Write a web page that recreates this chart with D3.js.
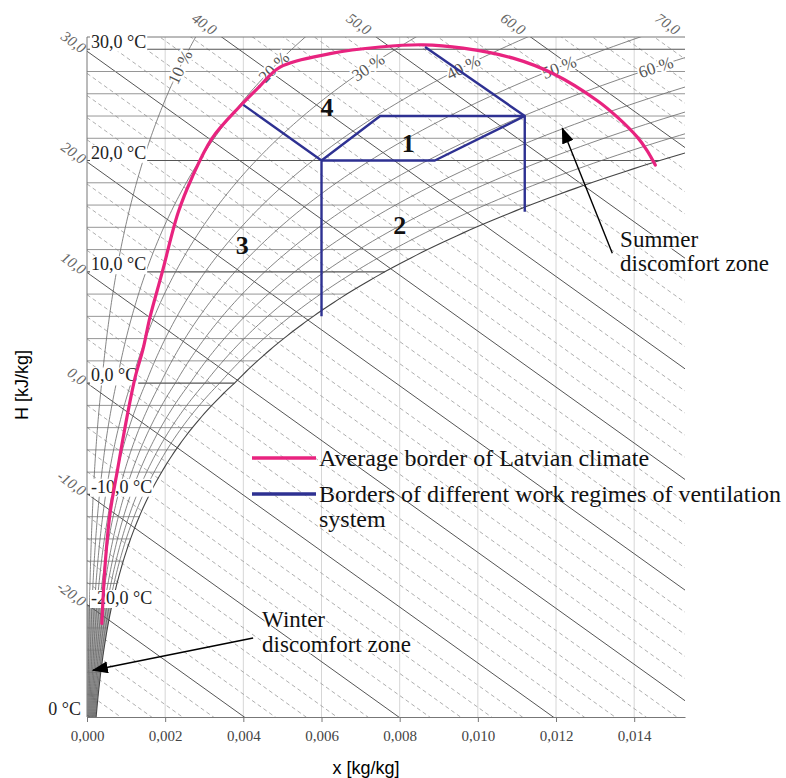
<!DOCTYPE html>
<html>
<head>
<meta charset="utf-8">
<script src="https://cdn.jsdelivr.net/npm/d3@7"></script>
<style>
  body { margin: 0; background: #fff; }
  .serif { font-family: "Liberation Serif", "Times New Roman", serif; }
  .sans { font-family: "Liberation Sans", Arial, sans-serif; }
</style>
</head>
<body>
<script>
// ---- data ----
var xTicks = [0, 0.002, 0.004, 0.006, 0.008, 0.010, 0.012, 0.014];
var xTickLabels = ["0,000", "0,002", "0,004", "0,006", "0,008", "0,010", "0,012", "0,014"];

var isoLabelTemps = [30, 20, 10, 0, -10, -20];
var isoLabels = ["30,0 °C", "20,0 °C", "10,0 °C", "0,0 °C", "-10,0 °C", "-20,0 °C"];
var bottomLabel = "0 °C";

var hLeftLevels = [30, 20, 10, 0, -10, -20];
var hLeftLabels = ["30,0", "20,0", "10,0", "0,0", "-10,0", "-20,0"];
var hTopLevels = [40, 50, 60, 70];
var hTopLabels = ["40,0", "50,0", "60,0", "70,0"];

var rhLevels = [0.1, 0.2, 0.3, 0.4, 0.5, 0.6, 0.7, 0.8, 0.9, 1.0];
var rhLabelLevels = [0.1, 0.2, 0.3, 0.4, 0.5, 0.6];
var rhLabels = ["10 %", "20 %", "30 %", "40 %", "50 %", "60 %"];

// average border of Latvian climate (x kg/kg, t °C)
var climateX = [0.00038, 0.00046, 0.00059, 0.00079, 0.00102, 0.00123, 0.00143, 0.00161, 0.00192,
                0.00233, 0.00269, 0.00320, 0.00392, 0.00440, 0.00494, 0.00622, 0.00750, 0.00860,
                0.00962, 0.01090, 0.01193, 0.01305, 0.01357, 0.01408, 0.01433, 0.01454];
var climateT = [-21.6, -16.5, -11.7, -7.6, -3.1, 0.5, 3.0, 5.9, 9.9,
                15.3, 18.5, 22.0, 24.9, 26.6, 28.4, 29.6, 30.2, 30.4,
                30.1, 29.2, 27.8, 25.4, 23.9, 22.1, 20.9, 19.6];

// borders of the work regimes, [x, t]
var regimeA = [[0.0040, 25.0], [0.0060, 20.0], [0.0060, 6.0]];
var regimeB = [[0.0060, 20.0], [0.0075, 24.0], [0.0112, 24.0], [0.0112, 15.4]];
var regimeC = [[0.0060, 20.0], [0.0089, 20.0], [0.0112, 24.0]];
var regimeD = [[0.0112, 24.0], [0.00865, 30.2]];

var zoneNames = ["1", "2", "3", "4"];
var zoneX = [0.00822, 0.0080, 0.00397, 0.00614];
var zoneT = [21.6, 14.2, 12.4, 24.8];

// ---- scales ----
var xMax = 0.0153, tMin = -30, tTop = 31.1;
var x = d3.scaleLinear().domain([0, xMax]).range([87, 685]);
var y = d3.scaleLinear().domain([tMin, tTop]).range([717, 37]);

function ps(t) {
  return t >= 0 ? 0.6112 * Math.exp(17.62 * t / (243.12 + t))
                : 0.6112 * Math.exp(22.46 * t / (272.62 + t));
}
function xRH(phi, t) { var p = phi * ps(t); return 0.622 * p / (101.325 - p); }
function tOfH(h, xx) { return (h - 2530 * xx) / 1.006; }

var svg = d3.select("body").append("svg")
    .attr("width", 786)
    .attr("height", 778);

svg.append("rect").attr("width", 786).attr("height", 778).attr("fill", "#fff");

svg.append("clipPath").attr("id", "plot")
  .append("rect")
    .attr("x", x(0)).attr("y", y(tTop))
    .attr("width", x(xMax) - x(0)).attr("height", y(tMin) - y(tTop));

var grid = svg.append("g").attr("clip-path", "url(#plot)");
var line = d3.line().x(function(d) { return x(d[0]); }).y(function(d) { return y(d[1]); });

// dense dark corner below -20 °C
var cornerT = d3.range(tMin, -19.9, 0.5);
grid.append("path")
    .datum(cornerT.map(function(t) { return [xRH(1, t), t]; })
      .concat([[0, -20], [0, tMin]]))
    .attr("fill", "#aaa")
    .attr("d", line);

// vertical grid
grid.selectAll(".vgrid")
  .data(xTicks.slice(1))
  .enter().append("line")
    .attr("x1", function(d) { return x(d); }).attr("x2", function(d) { return x(d); })
    .attr("y1", y(tTop)).attr("y2", y(tMin))
    .style("stroke", "#ccc").style("stroke-width", 0.8);

// enthalpy lines
var hMinor = d3.range(-30, 72, 2);
grid.selectAll(".hline")
  .data(hMinor)
  .enter().append("path")
    .attr("fill", "none")
    .attr("d", function(h) { return line([[0, tOfH(h, 0)], [xMax, tOfH(h, xMax)]]); })
    .style("stroke", function(h) { return h % 10 === 0 ? "#555" : "#999"; })
    .style("stroke-width", function(h) { return h % 10 === 0 ? 1 : 0.8; })
    .style("stroke-dasharray", function(h) { return h % 10 === 0 ? null : "4,3"; });

// isotherms
var isoTemps = d3.range(-28, 32, 2);
grid.selectAll(".iso")
  .data(isoTemps)
  .enter().append("path")
    .attr("fill", "none")
    .attr("d", function(t) { return line([[0, t], [Math.min(xRH(1, t), xMax), t]]); })
    .style("stroke", function(t) { return t % 10 === 0 ? "#555" : "#8a8a8a"; })
    .style("stroke-width", function(t) { return t % 10 === 0 ? 1.1 : 0.9; });

// relative humidity curves
var tSteps = d3.range(tMin, tTop + 0.26, 0.25);
grid.selectAll(".rh")
  .data(rhLevels)
  .enter().append("path")
    .attr("fill", "none")
    .attr("d", function(phi) {
      var pts = tSteps.map(function(t) { return [xRH(phi, t), t]; })
        .filter(function(d) { return d[0] < xMax * 1.1; });
      return line(pts);
    })
    .style("stroke", function(phi) { return phi === 1 ? "#444" : "#666"; })
    .style("stroke-width", function(phi) { return phi === 1 ? 1.1 : 0.8; });

// frame
svg.append("line").attr("x1", x(0)).attr("x2", x(0)).attr("y1", y(tTop)).attr("y2", y(tMin))
  .style("stroke", "#777").style("stroke-width", 1);
svg.append("line").attr("x1", x(0)).attr("x2", x(xMax)).attr("y1", y(tTop)).attr("y2", y(tTop))
  .style("stroke", "#777").style("stroke-width", 1);

// isotherm labels with white background
isoLabelTemps.forEach(function(t, i) {
  var g = svg.append("g");
  var txt = g.append("text")
      .attr("class", "serif")
      .attr("x", x(0) + 4)
      .attr("y", y(t) - 8)
      .attr("dy", "0.35em")
      .style("font-size", "18px")
      .style("fill", "#222")
      .text(isoLabels[i]);
  var b = txt.node().getBBox();
  g.insert("rect", "text")
      .attr("x", b.x - 1).attr("y", b.y + 2)
      .attr("width", b.width + 2).attr("height", b.height - 2)
      .attr("fill", "#fff");
});
svg.append("text")
    .attr("class", "serif")
    .attr("x", x(0) - 6)
    .attr("y", y(tMin) - 8)
    .attr("dy", "0.35em")
    .attr("text-anchor", "end")
    .style("font-size", "18px")
    .style("fill", "#222")
    .text(bottomLabel);

// enthalpy labels
var ang = Math.atan2(y(tOfH(0, 0.001)) - y(tOfH(0, 0)), x(0.001) - x(0)) * 180 / Math.PI;
hLeftLevels.forEach(function(h, i) {
  var px = x(0) - 3, py = y(tOfH(h, 0)) - 1;
  svg.append("text")
      .attr("class", "serif")
      .attr("transform", "translate(" + px + "," + py + ") rotate(" + ang + ")")
      .attr("text-anchor", "end")
      .attr("dy", "0.3em")
      .style("font-size", "15px")
      .style("font-style", "italic")
      .style("fill", "#666")
      .text(hLeftLabels[i]);
});
hTopLevels.forEach(function(h, i) {
  var xc = (h - 1.006 * tTop) / 2530;
  var px = x(xc) - 7, py = y(tTop) - 5;
  svg.append("text")
      .attr("class", "serif")
      .attr("transform", "translate(" + px + "," + py + ") rotate(" + ang + ")")
      .attr("text-anchor", "end")
      .attr("dy", "0.3em")
      .style("font-size", "15px")
      .style("font-style", "italic")
      .style("fill", "#666")
      .text(hTopLabels[i]);
});

// RH labels
rhLabelLevels.forEach(function(phi, i) {
  var t0 = 28.4;
  var ax = x(xRH(phi, t0 - 0.5)), ay = y(t0 - 0.5);
  var bx = x(xRH(phi, t0 + 0.5)), by = y(t0 + 0.5);
  var a = Math.atan2(by - ay, bx - ax) * 180 / Math.PI;
  if (a < -90) a += 180;
  svg.append("text")
      .attr("class", "serif")
      .attr("transform", "translate(" + x(xRH(phi, t0)) + "," + y(t0) + ") rotate(" + a + ")")
      .attr("text-anchor", "middle")
      .attr("dy", "0.35em")
      .style("font-size", "17px")
      .style("fill", "#555")
      .style("stroke", "#fff").style("stroke-width", 4)
      .style("paint-order", "stroke")
      .text(rhLabels[i]);
});

// bottom axis
var xAxis = svg.append("g")
    .attr("transform", "translate(0," + y(tMin) + ")")
    .call(d3.axisBottom(x)
      .tickValues(xTicks)
      .tickFormat(function(d, i) { return xTickLabels[i]; })
      .tickSize(5).tickSizeOuter(0).tickPadding(8));
xAxis.select(".domain").style("stroke", "#777");
xAxis.selectAll(".tick line").style("stroke", "#777");
xAxis.selectAll("text")
    .attr("class", "serif")
    .style("font-size", "15px")
    .style("fill", "#444");

svg.append("text")
    .attr("class", "sans")
    .attr("x", 366).attr("y", 774)
    .attr("text-anchor", "middle")
    .style("font-size", "18px")
    .text("x [kg/kg]");
svg.append("text")
    .attr("class", "sans")
    .attr("transform", "translate(28,385) rotate(-90)")
    .attr("text-anchor", "middle")
    .style("font-size", "18px")
    .text("H [kJ/kg]");

// climate border
svg.append("path")
    .datum(climateX.map(function(d, i) { return [d, climateT[i]]; }))
    .attr("fill", "none")
    .style("stroke", "#e8237f")
    .style("stroke-width", 3.2)
    .style("stroke-linecap", "round")
    .attr("d", line.curve(d3.curveCatmullRom));
line.curve(d3.curveLinear);

// regime borders
svg.selectAll(".regime")
  .data([regimeA, regimeB, regimeC, regimeD])
  .enter().append("path")
    .attr("fill", "none")
    .style("stroke", "#2e3192")
    .style("stroke-width", 2.4)
    .style("stroke-linejoin", "round")
    .attr("d", line);

svg.selectAll(".zone")
  .data(zoneNames)
  .enter().append("text")
    .attr("class", "serif")
    .attr("x", function(d, i) { return x(zoneX[i]); })
    .attr("y", function(d, i) { return y(zoneT[i]); })
    .attr("dy", "0.35em")
    .attr("text-anchor", "middle")
    .style("font-size", "26px")
    .style("font-weight", "bold")
    .style("fill", "#111")
    .text(function(d) { return d; });

// legend
var legend = svg.append("g").attr("transform", "translate(252,458)");
[["#e8237f", "Average border of Latvian climate"],
 ["#2e3192", "Borders of different work regimes of ventilation"]].forEach(function(d, i) {
  legend.append("line")
      .attr("x1", 0).attr("x2", 64).attr("y1", i * 36).attr("y2", i * 36)
      .style("stroke", d[0]).style("stroke-width", 3.5);
  legend.append("text")
      .attr("class", "serif")
      .attr("x", 67).attr("y", i * 36)
      .attr("dy", "0.33em")
      .style("font-size", "24px")
      .style("fill", "#111")
      .text(d[1]);
});
legend.append("text")
    .attr("class", "serif")
    .attr("x", 67).attr("y", 61)
    .attr("dy", "0.33em")
    .style("font-size", "24px")
    .style("fill", "#111")
    .text("system");

// annotations
svg.append("defs").append("marker")
    .attr("id", "head")
    .attr("viewBox", "0 0 16 12")
    .attr("refX", 15).attr("refY", 6)
    .attr("markerWidth", 16).attr("markerHeight", 12)
    .attr("markerUnits", "userSpaceOnUse")
    .attr("orient", "auto")
  .append("path")
    .attr("d", "M0,0 L16,6 L0,12 Z")
    .attr("fill", "#000");

svg.append("line")
    .attr("x1", x(0.01344)).attr("y1", y(11.67))
    .attr("x2", x(0.01216)).attr("y2", y(22.9))
    .style("stroke", "#000").style("stroke-width", 1.4)
    .attr("marker-end", "url(#head)");
svg.append("line")
    .attr("x1", x(0.00425)).attr("y1", y(-22.9))
    .attr("x2", x(0.00015)).attr("y2", y(-25.8))
    .style("stroke", "#000").style("stroke-width", 1.4)
    .attr("marker-end", "url(#head)");

[["Summer", 0.01364, 12.2], ["discomfort zone", 0.01364, 10.05],
 ["Winter", 0.00448, -21.9], ["discomfort zone", 0.00448, -24.2]].forEach(function(d) {
  svg.append("text")
      .attr("class", "serif")
      .attr("x", x(d[1])).attr("y", y(d[2]))
      .style("font-size", "23px")
      .style("fill", "#111")
      .style("stroke", "#fff").style("stroke-width", 3)
      .style("paint-order", "stroke")
      .text(d[0]);
});
</script>
</body>
</html>
